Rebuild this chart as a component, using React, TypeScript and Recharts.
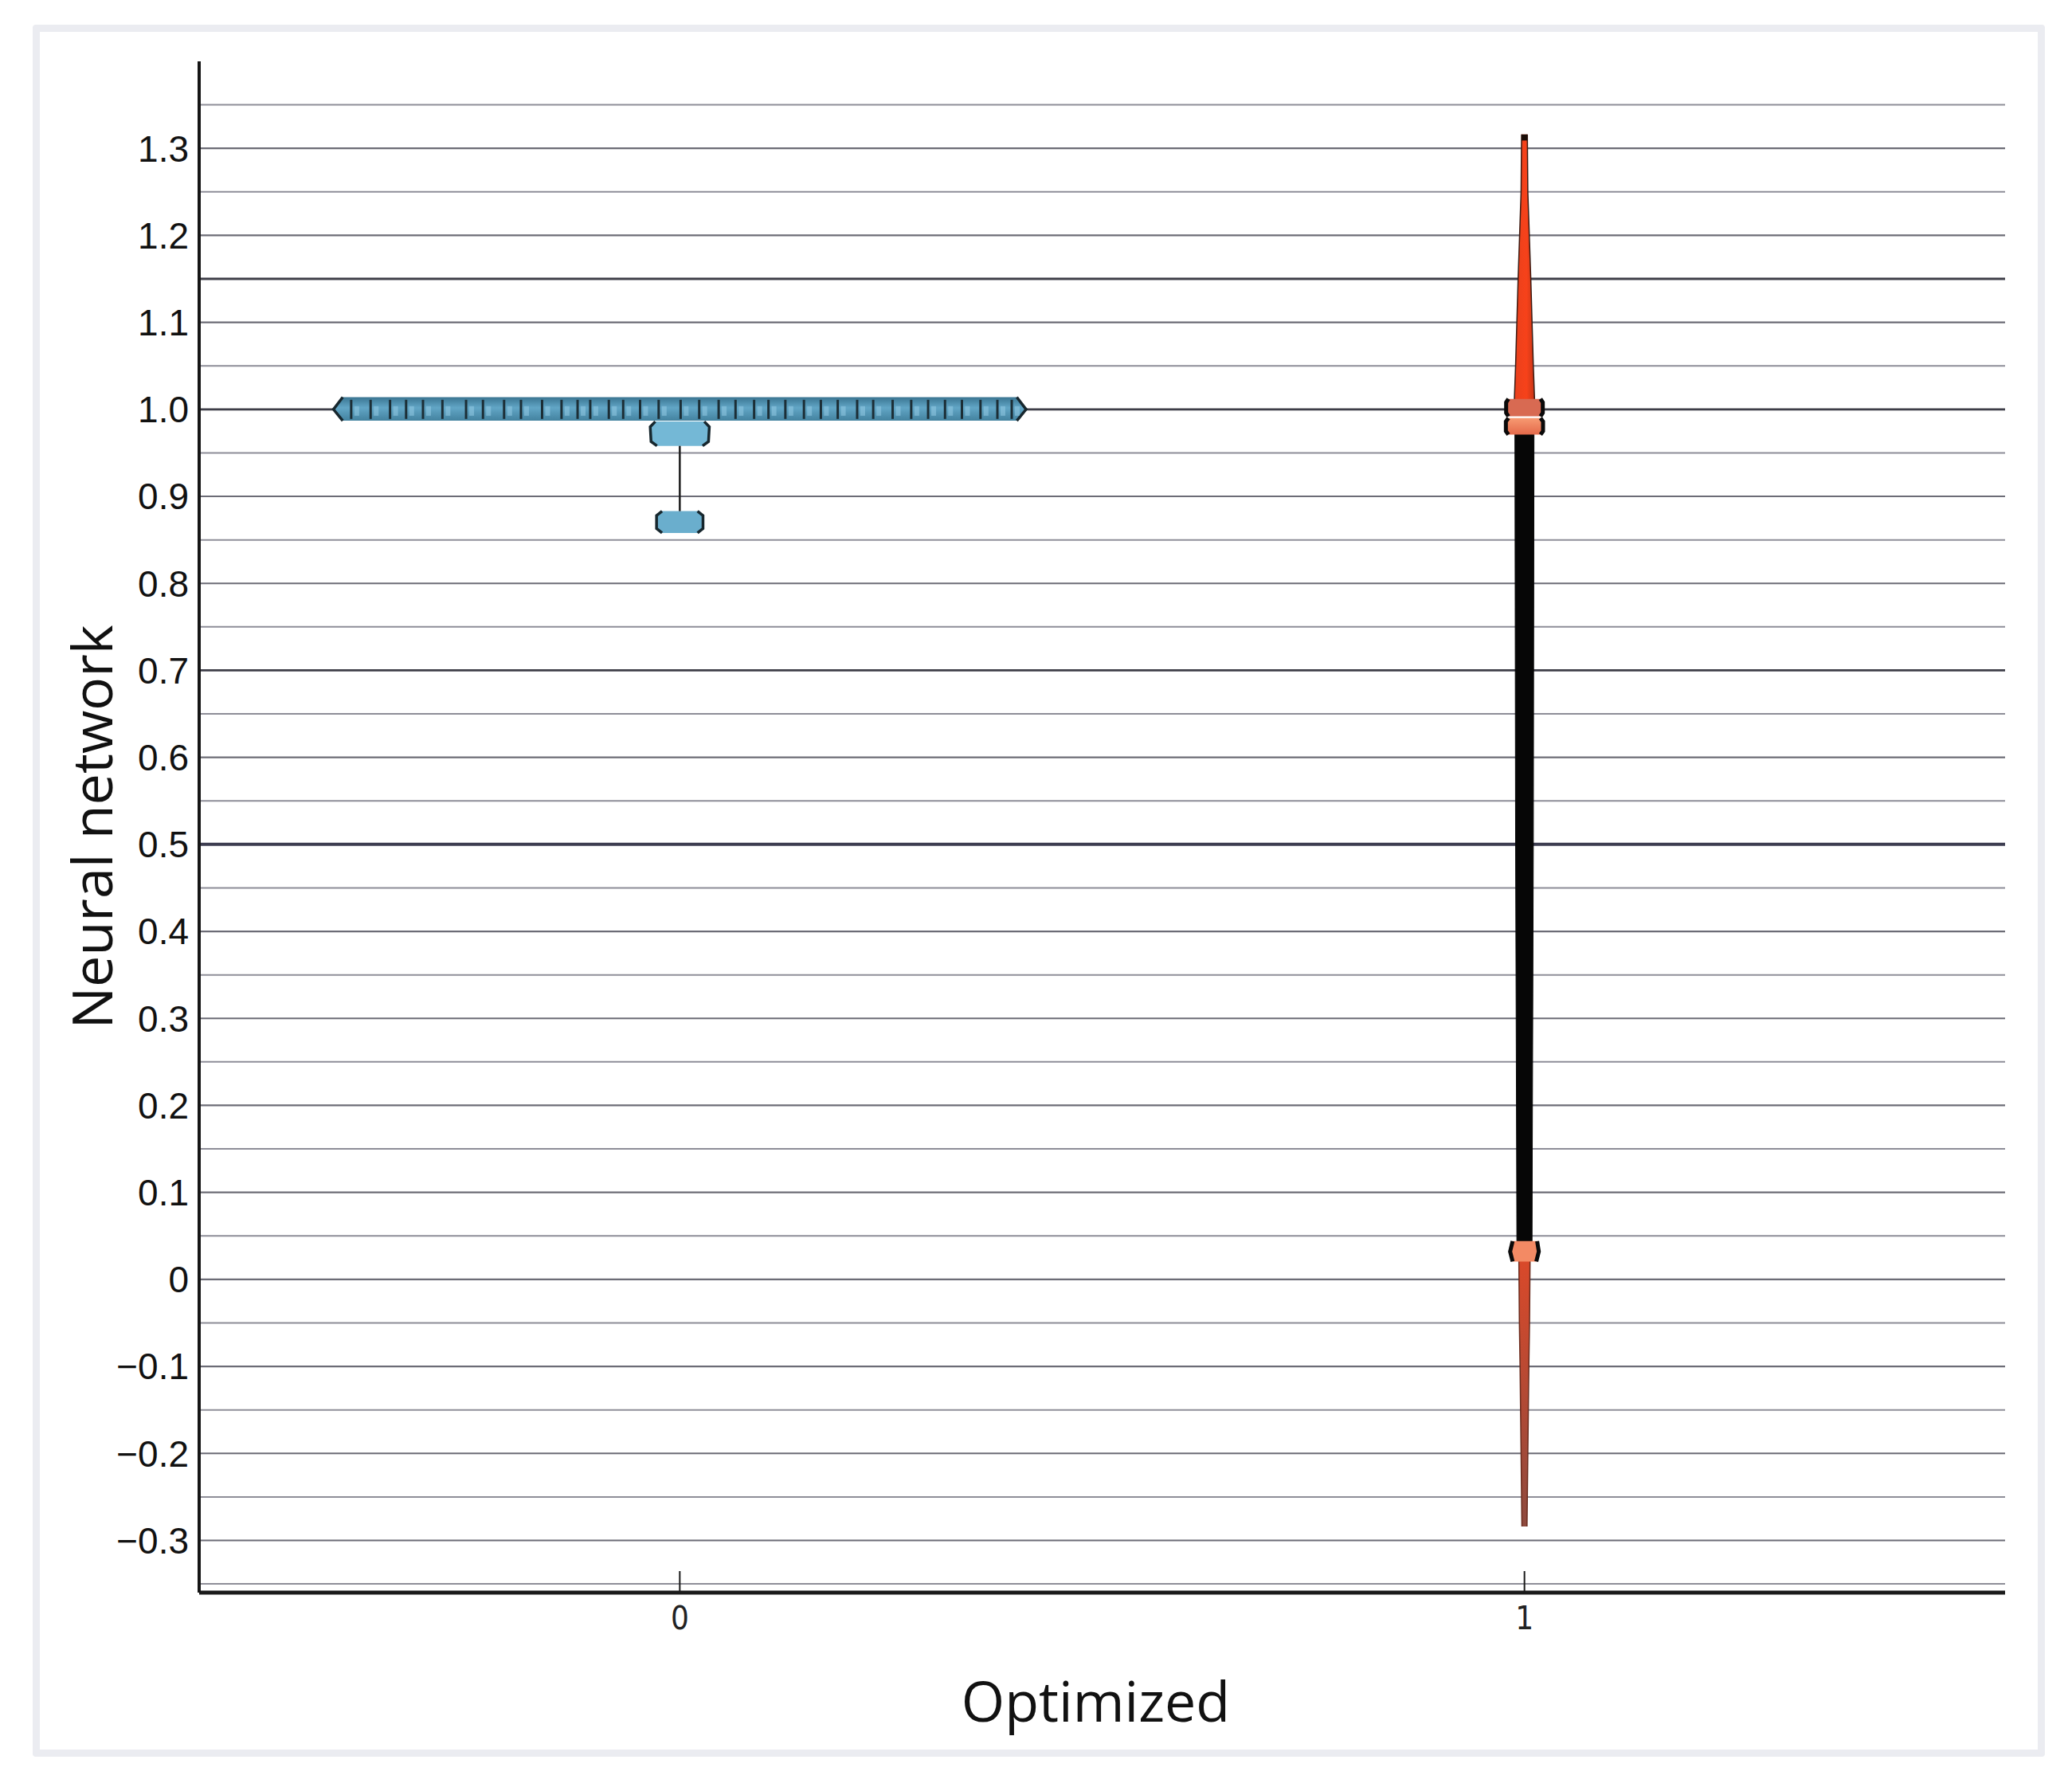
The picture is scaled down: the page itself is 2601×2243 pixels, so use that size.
import React from 'react';
import { ComposedChart, Area, Line, Scatter, XAxis, YAxis, ReferenceLine } from 'recharts';

const W = 2601;
const H = 2243;

const categories = [0, 1];
const yTicks = [1.3, 1.2, 1.1, 1.0, 0.9, 0.8, 0.7, 0.6, 0.5, 0.4, 0.3, 0.2, 0.1, 0, -0.1, -0.2, -0.3];
const gridValues = [
  1.35, 1.3, 1.25, 1.2, 1.15, 1.1, 1.05, 1.0, 0.95, 0.9, 0.85, 0.8, 0.75, 0.7, 0.65, 0.6, 0.55, 0.5,
  0.45, 0.4, 0.35, 0.3, 0.25, 0.2, 0.15, 0.1, 0.05, 0, -0.05, -0.1, -0.15, -0.2, -0.25, -0.3, -0.35,
];
const strongGrid = [1.15, 1.0, 0.7, 0.5];

// Optimized = 0 : strip of points at 1.0, small cluster and an outlier below
const baseStrip = [
  { y: 0.987, r: [-0.399, 0.399] },
  { y: 1.0, r: [-0.41, 0.41] },
  { y: 1.014, r: [-0.399, 0.399] },
];
const baseStripPoints = [
  -0.389, -0.366, -0.343, -0.324, -0.304, -0.281, -0.253, -0.233, -0.208, -0.188, -0.163, -0.14, -0.121,
  -0.106, -0.084, -0.067, -0.047, -0.025, 0.001, 0.023, 0.046, 0.066, 0.088, 0.105, 0.125, 0.147, 0.167,
  0.187, 0.21, 0.229, 0.252, 0.274, 0.294, 0.314, 0.334, 0.356, 0.376, 0.393,
].map((x) => ({ x, y: 1.0 }));
const baseCluster = [
  { y: 0.958, r: [-0.027, 0.027] },
  { y: 0.963, r: [-0.034, 0.034] },
  { y: 0.98, r: [-0.035, 0.035] },
  { y: 0.986, r: [-0.029, 0.029] },
];
const baseWhisker = [
  { y: 0.958, x: 0 },
  { y: 0.883, x: 0 },
];
const baseOutlier = [
  { y: 0.858, r: [-0.021, 0.021] },
  { y: 0.863, r: [-0.0275, 0.0275] },
  { y: 0.878, r: [-0.0275, 0.0275] },
  { y: 0.883, r: [-0.021, 0.021] },
];

// Optimized = 1 : long thin distribution
const optUpperTail = [
  { y: 1.01, r: [0.988, 1.012] },
  { y: 1.05, r: [0.9895, 1.0105] },
  { y: 1.15, r: [0.9925, 1.0075] },
  { y: 1.25, r: [0.996, 1.004] },
  { y: 1.316, r: [0.9966, 1.0034] },
];
const optUpperCap = [
  { y: 1.309, r: [0.9966, 1.0034] },
  { y: 1.316, r: [0.9966, 1.0034] },
];
const optBody = [
  { y: 0.042, r: [0.991, 1.009] },
  { y: 0.15, r: [0.9907, 1.0093] },
  { y: 0.5, r: [0.9895, 1.0105] },
  { y: 0.972, r: [0.9887, 1.0113] },
];
const optBoxTop = [
  { y: 0.992, r: [0.981, 1.019] },
  { y: 0.996, r: [0.9783, 1.0217] },
  { y: 1.008, r: [0.9783, 1.0217] },
  { y: 1.012, r: [0.981, 1.019] },
];
const optBoxMid = [
  { y: 0.971, r: [0.981, 1.019] },
  { y: 0.975, r: [0.978, 1.022] },
  { y: 0.986, r: [0.978, 1.022] },
  { y: 0.99, r: [0.981, 1.019] },
];
const optBoxLow = [
  { y: 0.0205, r: [0.986, 1.014] },
  { y: 0.032, r: [0.983, 1.017] },
  { y: 0.044, r: [0.986, 1.015] },
];
const optLowerTail = [
  { y: -0.284, r: [0.997, 1.003] },
  { y: -0.2, r: [0.996, 1.004] },
  { y: -0.1, r: [0.9948, 1.0052] },
  { y: -0.05, r: [0.994, 1.006] },
  { y: 0.021, r: [0.9934, 1.0066] },
];

const formatTick = (v: number) => (v === 0 ? '0' : (v < 0 ? '\u2212' : '') + Math.abs(v).toFixed(1));

const gridStroke = (v: number) => {
  if (v === 0.5) return { stroke: '#3d3d50', strokeWidth: 4 };
  if (strongGrid.includes(v)) return { stroke: '#3e3e48', strokeWidth: 2.8 };
  const major = Math.abs(Math.round(v * 10) - v * 10) < 1e-6;
  return major ? { stroke: '#6c6c76', strokeWidth: 2.2 } : { stroke: '#8e8e98', strokeWidth: 2 };
};

const CategoryTick = (props: any) => {
  const { x, y, payload } = props;
  return (
    <g>
      <line x1={x} x2={x} y1={y - 27} y2={y + 2} stroke="#1b1b1b" strokeWidth={2} />
      <text
        x={x}
        y={y + 46}
        textAnchor="middle"
        fontSize={40}
        fill="#222"
        fontFamily="'Liberation Sans Narrow', 'DejaVu Sans Condensed', sans-serif"
      >
        {payload.value}
      </text>
    </g>
  );
};

const StripCell = (props: any) => {
  const { cx, cy } = props;
  return (
    <g>
      <line x1={cx} x2={cx} y1={cy - 12} y2={cy + 12} stroke="#1c2e36" strokeWidth={3} />
      <rect x={cx + 4} y={cy - 4} width={6} height={12} fill="#93cbe3" opacity={0.55} />
    </g>
  );
};

const XTitle = (props: any) => {
  const { x, y, width } = props.viewBox;
  return (
    <text x={x + width / 2 - 8} y={y + 162} textAnchor="middle" fontSize={70} fill="#111" fontFamily="'Open Sans', sans-serif">
      Optimized
    </text>
  );
};

const YTitle = (props: any) => {
  const { y, height } = props.viewBox;
  const cx = 141;
  const cy = y + height / 2;
  return (
    <text
      x={cx}
      y={cy}
      transform={`rotate(-90 ${cx} ${cy})`}
      textAnchor="middle"
      fontSize={70}
      fontWeight={500}
      fill="#111"
      fontFamily="'Open Sans', sans-serif"
    >
      Neural network
    </text>
  );
};

export default function App() {
  return (
    <div style={{ position: 'absolute', left: 0, top: 0, width: W, height: H, background: '#fff' }}>
      <div
        style={{
          position: 'absolute',
          left: 41,
          top: 31,
          width: 2526,
          height: 2174,
          boxSizing: 'border-box',
          border: '9px solid #ebecf1',
          borderRadius: 4,
        }}
      />
      <div style={{ position: 'absolute', left: 0, top: 0 }}>
        <ComposedChart layout="vertical" width={W} height={H} margin={{ top: 77, right: 84, bottom: 0, left: 0 }}>
          <defs>
            <linearGradient id="upperTail" x1="0" y1="0" x2="1" y2="0">
              <stop offset="0%" stopColor="#e8401c" />
              <stop offset="60%" stopColor="#f7421a" />
              <stop offset="100%" stopColor="#c73517" />
            </linearGradient>
            <linearGradient id="lowerTail" x1="0" y1="0" x2="0" y2="1">
              <stop offset="0%" stopColor="#d9492a" />
              <stop offset="100%" stopColor="#8e4a3e" />
            </linearGradient>
            <linearGradient id="blueStrip" x1="0" y1="0" x2="0" y2="1">
              <stop offset="0%" stopColor="#3a7592" />
              <stop offset="45%" stopColor="#62a6c6" />
              <stop offset="100%" stopColor="#43829f" />
            </linearGradient>
            <linearGradient id="salmon" x1="0" y1="0" x2="0" y2="1">
              <stop offset="0%" stopColor="#f79a72" />
              <stop offset="100%" stopColor="#e4694a" />
            </linearGradient>
          </defs>
          <XAxis
            type="number"
            dataKey="x"
            domain={[-0.569, 1.569]}
            ticks={categories}
            interval={0}
            allowDataOverflow
            height={244}
            axisLine={{ stroke: '#1b1b1b', strokeWidth: 5 }}
            tickLine={false}
            tickSize={0}
            tickMargin={0}
            tick={(p: any) => <CategoryTick {...p} />}
            label={(p: any) => <XTitle {...p} />}
          />
          <YAxis
            type="number"
            dataKey="y"
            reversed
            domain={[-0.36, 1.4]}
            ticks={yTicks}
            interval={0}
            allowDataOverflow
            width={250}
            axisLine={{ stroke: '#151515', strokeWidth: 4 }}
            tickLine={false}
            tickSize={0}
            tickMargin={13}
            tickFormatter={formatTick}
            tick={{ fontSize: 46, fill: '#111', fontFamily: "'Liberation Sans', Arial, sans-serif" }}
            label={(p: any) => <YTitle {...p} />}
          />
          {gridValues.map((v) => (
            <ReferenceLine key={`g${v}`} y={v} {...gridStroke(v)} zIndex={-50} />
          ))}

          <Area data={baseStrip} dataKey="r" type="linear" fill="url(#blueStrip)" fillOpacity={1} stroke="#17272e" strokeWidth={3.5} isAnimationActive={false} />
          <Scatter data={baseStripPoints} dataKey="x" shape={(p: any) => <StripCell {...p} />} isAnimationActive={false} />
          <Line data={baseWhisker} dataKey="x" type="linear" stroke="#1e1e1e" strokeWidth={2.5} dot={false} activeDot={false} isAnimationActive={false} />
          <Area data={baseCluster} dataKey="r" type="linear" fill="#74b8d6" fillOpacity={1} stroke="#17272e" strokeWidth={3.5} isAnimationActive={false} />
          <Area data={baseOutlier} dataKey="r" type="linear" fill="#6aaecd" fillOpacity={1} stroke="#17272e" strokeWidth={3.5} isAnimationActive={false} />

          <Area data={optUpperTail} dataKey="r" type="linear" fill="url(#upperTail)" fillOpacity={1} stroke="#3a1c14" strokeWidth={1.5} isAnimationActive={false} />
          <Area data={optUpperCap} dataKey="r" type="linear" fill="#1a0d08" fillOpacity={1} stroke="none" isAnimationActive={false} />
          <Area data={optLowerTail} dataKey="r" type="linear" fill="url(#lowerTail)" fillOpacity={1} stroke="#6a2c1e" strokeWidth={1.5} isAnimationActive={false} />
          <Area data={optBody} dataKey="r" type="linear" fill="#060606" fillOpacity={1} stroke="#060606" strokeWidth={1} isAnimationActive={false} />
          <Area data={optBoxMid} dataKey="r" type="linear" fill="url(#salmon)" fillOpacity={1} stroke="#0a0a0a" strokeWidth={5} isAnimationActive={false} />
          <Area data={optBoxTop} dataKey="r" type="linear" fill="#d86a52" fillOpacity={1} stroke="#0a0a0a" strokeWidth={5} isAnimationActive={false} />
          <Area data={optBoxLow} dataKey="r" type="linear" fill="#f38a64" fillOpacity={1} stroke="#0a0a0a" strokeWidth={5} isAnimationActive={false} />
        </ComposedChart>
      </div>
    </div>
  );
}
